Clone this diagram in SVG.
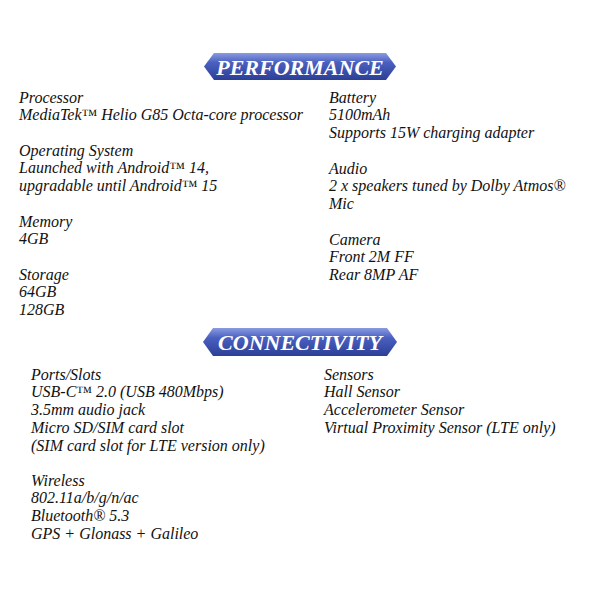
<svg xmlns="http://www.w3.org/2000/svg" width="600" height="600" viewBox="0 0 600 600">
<defs>
<linearGradient id="g" x1="0" y1="0" x2="0" y2="1">
<stop offset="0" stop-color="#8a9be0"/><stop offset="0.35" stop-color="#4a60c0"/><stop offset="1" stop-color="#2c3f96"/>
</linearGradient>
<style>
.t{font-family:"Liberation Serif",serif;font-style:italic;font-size:16px;fill:#111}
.b{font-family:"Liberation Serif",serif;font-style:italic;font-weight:bold;font-size:22px;fill:#fff;text-anchor:middle}
</style>
</defs>
<rect width="600" height="600" fill="#fff"/>
<g id="perf-banner">
<polygon points="214,53 386,53 396,66.5 386,80 214,80 204,66.5" fill="url(#g)"/>
<text class="b" x="300" y="74.5">PERFORMANCE</text>
</g>
<g id="conn-banner">
<polygon points="213,328 387,328 397,342 387,356 213,356 203,342" fill="url(#g)"/>
<text class="b" x="300" y="349.5">CONNECTIVITY</text>
</g>
<g id="perf-left" class="t">
<text x="19" y="103">Processor</text>
<text x="19" y="120">MediaTek™ Helio G85 Octa-core processor</text>
<text x="19" y="156">Operating System</text>
<text x="19" y="173">Launched with Android™ 14,</text>
<text x="19" y="191">upgradable until Android™ 15</text>
<text x="19" y="227">Memory</text>
<text x="19" y="244">4GB</text>
<text x="19" y="280">Storage</text>
<text x="19" y="297">64GB</text>
<text x="19" y="315">128GB</text>
</g>
<g id="perf-right" class="t">
<text x="329" y="103">Battery</text>
<text x="329" y="120">5100mAh</text>
<text x="329" y="138">Supports 15W charging adapter</text>
<text x="329" y="174">Audio</text>
<text x="329" y="191">2 x speakers tuned by Dolby Atmos®</text>
<text x="329" y="209">Mic</text>
<text x="329" y="245">Camera</text>
<text x="329" y="262">Front 2M FF</text>
<text x="329" y="280">Rear 8MP AF</text>
</g>
<g id="conn-left" class="t">
<text x="31" y="380">Ports/Slots</text>
<text x="31" y="397">USB-C™ 2.0 (USB 480Mbps)</text>
<text x="31" y="415">3.5mm audio jack</text>
<text x="31" y="433">Micro SD/SIM card slot</text>
<text x="31" y="451">(SIM card slot for LTE version only)</text>
<text x="31" y="486">Wireless</text>
<text x="31" y="503">802.11a/b/g/n/ac</text>
<text x="31" y="521">Bluetooth® 5.3</text>
<text x="31" y="539">GPS + Glonass + Galileo</text>
</g>
<g id="conn-right" class="t">
<text x="324" y="380">Sensors</text>
<text x="324" y="397">Hall Sensor</text>
<text x="324" y="415">Accelerometer Sensor</text>
<text x="324" y="433">Virtual Proximity Sensor (LTE only)</text>
</g>
</svg>
